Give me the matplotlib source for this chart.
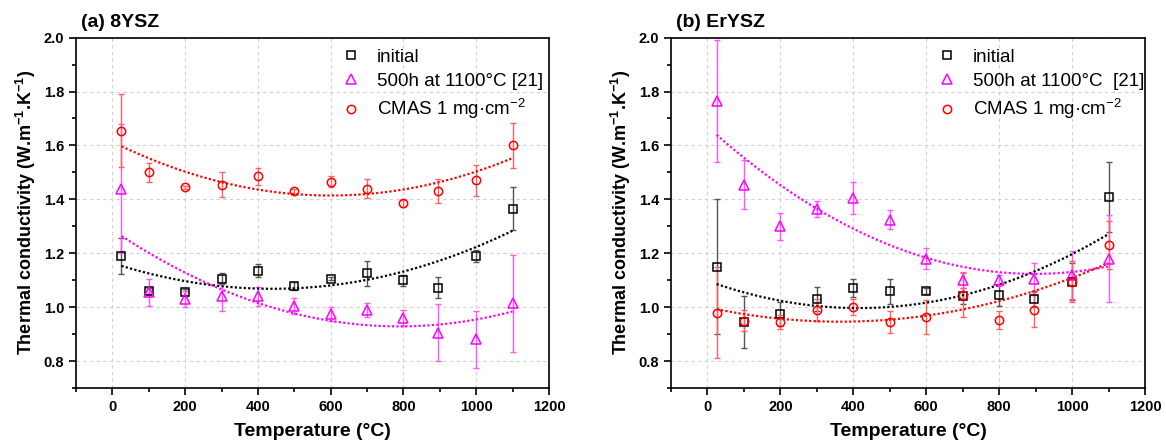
import numpy as np
import matplotlib
matplotlib.use("Agg")
from matplotlib import pyplot as plt
from matplotlib.ticker import MultipleLocator

plt.rcParams['font.family'] = ['Liberation Sans', 'DejaVu Sans']
plt.rcParams['mathtext.default'] = 'regular'

temps = [25, 100, 200, 300, 400, 500, 600, 700, 800, 895, 1000, 1100]

# (a) 8YSZ
a_init = [1.19, 1.06, 1.055, 1.105, 1.135, 1.08, 1.105, 1.125, 1.10, 1.072, 1.19, 1.365]
a_init_err = [0.068, 0.01, 0.012, 0.02, 0.025, 0.015, 0.006, 0.045, 0.02, 0.04, 0.022, 0.08]
a_aged = [1.44, 1.055, 1.03, 1.04, 1.04, 1.005, 0.975, 0.99, 0.96, 0.905, 0.88, 1.015]
a_aged_err = [0.24, 0.05, 0.03, 0.055, 0.035, 0.03, 0.025, 0.025, 0.03, 0.105, 0.107, 0.18]
a_cmas = [1.655, 1.50, 1.445, 1.455, 1.485, 1.43, 1.465, 1.44, 1.385, 1.43, 1.47, 1.60]
a_cmas_err = [0.135, 0.035, 0.006, 0.045, 0.03, 0.01, 0.02, 0.035, 0.012, 0.045, 0.057, 0.082]

# (b) ErYSZ
b_init = [1.15, 0.945, 0.975, 1.03, 1.07, 1.058, 1.06, 1.04, 1.045, 1.03, 1.095, 1.41]
b_init_err = [0.25, 0.095, 0.045, 0.045, 0.033, 0.045, 0.01, 0.03, 0.04, 0.03, 0.07, 0.13]
b_aged = [1.765, 1.455, 1.30, 1.365, 1.405, 1.325, 1.18, 1.10, 1.10, 1.105, 1.12, 1.18]
b_aged_err = [0.225, 0.09, 0.05, 0.03, 0.06, 0.035, 0.04, 0.03, 0.02, 0.06, 0.09, 0.16]
b_cmas = [0.98, 0.95, 0.945, 0.99, 1.00, 0.945, 0.962, 1.045, 0.952, 0.99, 1.095, 1.23]
b_cmas_err = [0.17, 0.04, 0.025, 0.04, 0.03, 0.04, 0.063, 0.08, 0.035, 0.065, 0.075, 0.09]

labels = ["initial", "500h at 1100°C [21]", "CMAS 1 mg·cm$^{-2}$"]
labels_b = ["initial", "500h at 1100°C  [21]", "CMAS 1 mg·cm$^{-2}$"]


def panel(ax, title, series, labs):
    styles = [('s', 5.5, '#000000', '#555555'), ('^', 6.5, '#ff00ff', '#ff55ff'), ('o', 6, '#ff0000', '#ff6060')]
    handles = []
    for (y, e), (m, ms, c, ec) in zip(series, styles):
        ax.errorbar(temps, y, yerr=e, fmt='none', ecolor=ec, elinewidth=1.0, capsize=2.5, capthick=1.0, zorder=2)
        h, = ax.plot(temps, y, m, mfc='none', mec=c, mew=1.1, ms=ms, ls='none', zorder=3)
        handles.append(h)
        # quadratic fit
        p = np.polyfit(temps, y, 2)
        xf = np.linspace(temps[0], temps[-1], 200)
        ax.plot(xf, np.polyval(p, xf), color=c, ls=(0, (1, 1)), lw=1.6, zorder=2.5)

    ax.set_xlim(-100, 1200)
    ax.set_ylim(0.7, 2.0)
    ax.xaxis.set_major_locator(MultipleLocator(200))
    ax.xaxis.set_minor_locator(MultipleLocator(100))
    ax.yaxis.set_minor_locator(MultipleLocator(0.1))
    ax.set_yticks([0.8, 1.0, 1.2, 1.4, 1.6, 1.8, 2.0])
    ax.grid(True, which='major', color='#d0d0d0', ls=(0, (3, 3)), lw=0.8)
    ax.tick_params(which='both', direction='out', labelsize=10.5, width=1.2)
    ax.tick_params(which='major', length=5)
    ax.tick_params(which='minor', length=3)
    for lab in ax.get_xticklabels() + ax.get_yticklabels():
        lab.set_fontweight('bold')
    for s in ax.spines.values():
        s.set_linewidth(1.2)
    ax.set_xlabel("Temperature (°C)", fontsize=14, fontweight='bold', labelpad=7)
    ax.set_ylabel("Thermal conductivity (W.m$^{-1}$.K$^{-1}$)", fontsize=13, fontweight='bold', labelpad=4)
    ax.text(0.01, 1.03, title, transform=ax.transAxes, fontsize=14, fontweight='bold', ha='left', va='baseline')
    ax.legend(handles, labs, loc='upper left', bbox_to_anchor=(0.542, 0.99), borderaxespad=0,
              frameon=False, fontsize=13.5, handlelength=1.2, handletextpad=0.79, labelspacing=0.38)


def main():
    fig = plt.figure(figsize=(11.66, 4.48), dpi=100)
    ax1 = fig.add_axes([0.0652, 0.134, 0.4056, 0.782])
    ax2 = fig.add_axes([0.5755, 0.134, 0.4065, 0.782])
    panel(ax1, "(a) 8YSZ", [(a_init, a_init_err), (a_aged, a_aged_err), (a_cmas, a_cmas_err)], labels)
    panel(ax2, "(b) ErYSZ", [(b_init, b_init_err), (b_aged, b_aged_err), (b_cmas, b_cmas_err)], labels_b)
    fig.savefig("out.png", dpi=100)

main()
